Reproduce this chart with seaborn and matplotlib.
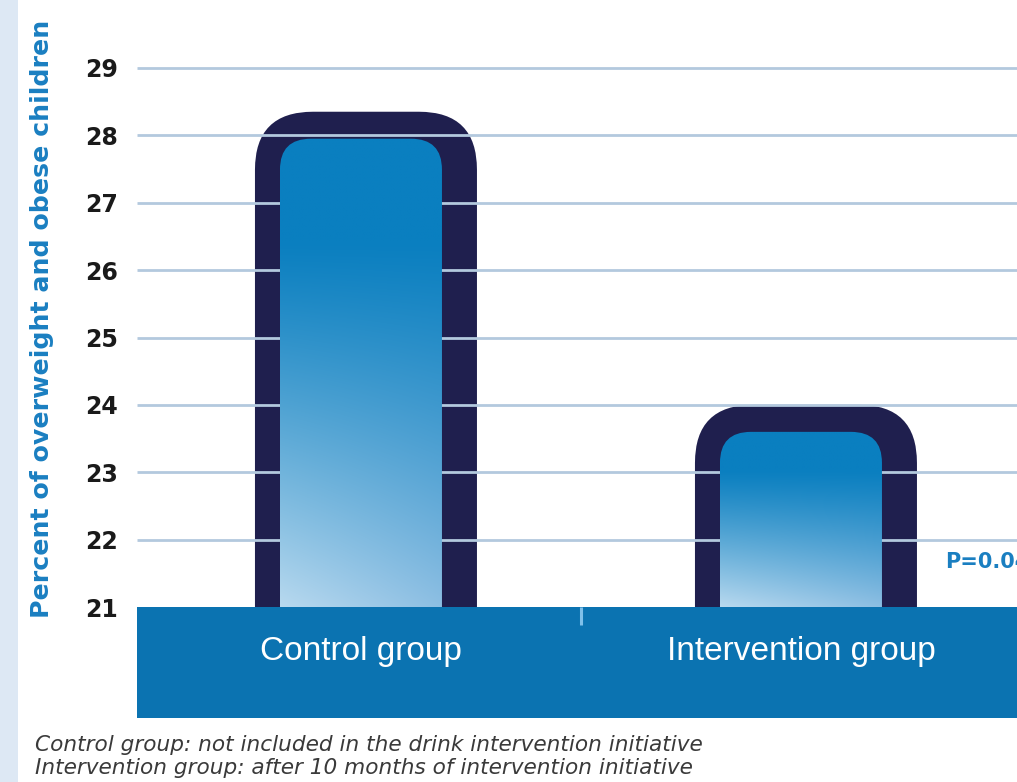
import numpy as np
import matplotlib
matplotlib.use("Agg")
import matplotlib.pyplot as plt
from matplotlib.patches import FancyBboxPatch, Rectangle
from matplotlib.colors import to_rgb
import seaborn as sns

# ---- data -------------------------------------------------------------
groups = ["Control group", "Intervention group"]
percent = [27.95, 23.6]
y_ticks = [21, 22, 23, 24, 25, 26, 27, 28, 29]
y_label = "Percent of overweight and obese children"
p_note = "P=0.04"
footnotes = [
    "Control group: not included in the drink intervention initiative",
    "Intervention group: after 10 months of intervention initiative",
]

# ---- styling ----------------------------------------------------------
W, H, DPI = 1017, 782, 100
NAVY = "#1f1f4e"
BAND = "#0b73b1"
GRID = "#b3c9de"
LABEL_BLUE = "#1a7fc1"
TOP_BLUE = "#0a7fc0"
BOTTOM_LEFT = "#b8d9ef"
BOTTOM_RIGHT = "#8dbfe3"

sns.set_theme(style="white")
plt.rcParams["font.family"] = ["DejaVu Sans"]

fig = plt.figure(figsize=(W / DPI, H / DPI), dpi=DPI)
fig.patch.set_facecolor("white")
# pale strip along the left edge
fig.patches.append(Rectangle((0, 0), 18 / W, 1, transform=fig.transFigure,
                             facecolor="#dde8f4", edgecolor="none", zorder=0))

ax = fig.add_axes([137 / W, 64 / H, 880 / W, 718 / H])
ax.set_facecolor("none")

px_per_unit_y = 67.43
px_per_unit_x = 440.0
y_lo = 21 - (718 - 607) / px_per_unit_y
y_hi = 29 + 68 / px_per_unit_y
x_lo, x_hi = -0.509, 1.491

sns.barplot(x=groups, y=percent, ax=ax, width=162 / px_per_unit_x,
            color=TOP_BLUE, saturation=1)

aspect = px_per_unit_x / px_per_unit_y
left_pad = 25 / px_per_unit_x
right_pad = 35 / px_per_unit_x
top_pad = 27 / px_per_unit_y
base = y_lo - 1.0

bars = list(ax.patches)
for bar in bars:
    bar.set_visible(False)
    x0, w, top = bar.get_x(), bar.get_width(), bar.get_height()

    # dark rounded frame around the bar
    outer = FancyBboxPatch(
        (x0 - left_pad, base), w + left_pad + right_pad, top + top_pad - base,
        boxstyle=f"round,pad=0,rounding_size={58 / px_per_unit_x}",
        mutation_aspect=aspect, facecolor=NAVY, edgecolor="none", zorder=1)
    ax.add_patch(outer)

    # gradient-filled inner bar
    inner = FancyBboxPatch(
        (x0, base), w, top - base,
        boxstyle=f"round,pad=0,rounding_size={31 / px_per_unit_x}",
        mutation_aspect=aspect, facecolor="none", edgecolor="none", zorder=3)
    ax.add_patch(inner)

    ny, nx = 300, 60
    s = np.linspace(0, 1, ny)[:, None]
    visible_frac = (top - 21) / (top - base)
    s_vis = np.clip(s / visible_frac, 0, 1)
    t = np.clip((s_vis - 0.22) / 0.78, 0, 1) ** 1.15
    u = np.linspace(0, 1, nx)[None, :]
    top_c = np.array(to_rgb(TOP_BLUE))
    bl = np.array(to_rgb(BOTTOM_LEFT))
    br = np.array(to_rgb(BOTTOM_RIGHT))
    bottom_c = bl[None, None, :] * (1 - u[..., None]) + br[None, None, :] * u[..., None]
    img = top_c[None, None, :] * (1 - t[..., None]) + bottom_c * t[..., None]
    im = ax.imshow(img, extent=[x0, x0 + w, base, top], origin="upper",
                   aspect="auto", zorder=3, interpolation="bilinear")
    im.set_clip_path(inner)

# horizontal grid lines (drawn over the frame, under the inner bars)
ax.hlines(y_ticks[1:], x_lo, x_hi, color=GRID, lw=2.0, zorder=2)

# category band along the base of the chart
ax.add_patch(Rectangle((x_lo, y_lo), x_hi - x_lo, 21 - y_lo,
                       facecolor=BAND, edgecolor="none", zorder=4))
ax.vlines(0.5, 21 - 18 / px_per_unit_y, 21, color="#7fc0ea", lw=2.2, zorder=5)
for i, g in enumerate(groups):
    ax.text(i, 21 - (651 - 607) / px_per_unit_y, g, ha="center", va="center",
            color="white", fontsize=24, zorder=6, family="Liberation Sans")

ax.text(x_lo + (945 - 137) / px_per_unit_x, 21 + (607 - 562) / px_per_unit_y,
        p_note, ha="left", va="center", color=LABEL_BLUE, fontsize=15,
        fontweight="bold", zorder=6, clip_on=False)

ax.set_xlim(x_lo, x_hi)
ax.set_ylim(y_lo, y_hi)
ax.set_xticks([])
ax.set_xlabel("")
ax.set_ylabel("")
ax.set_yticks(y_ticks)
ax.set_yticklabels([str(v) for v in y_ticks], fontsize=17, fontweight="bold",
                   color="#1a1a1a")
ax.tick_params(axis="y", length=0, pad=14)
for sp in ax.spines.values():
    sp.set_visible(False)

fig.text(42 / W, 1 - 319 / H, y_label, rotation=90, ha="center", va="center",
         color=LABEL_BLUE, fontsize=18.2, fontweight="bold")

for k, line in enumerate(footnotes):
    fig.text(35 / W, 1 - (745 + 23 * k) / H, line, ha="left", va="center",
             color="#3a3a3a", fontsize=15.6, style="italic")

fig.savefig("out.png", dpi=DPI)
